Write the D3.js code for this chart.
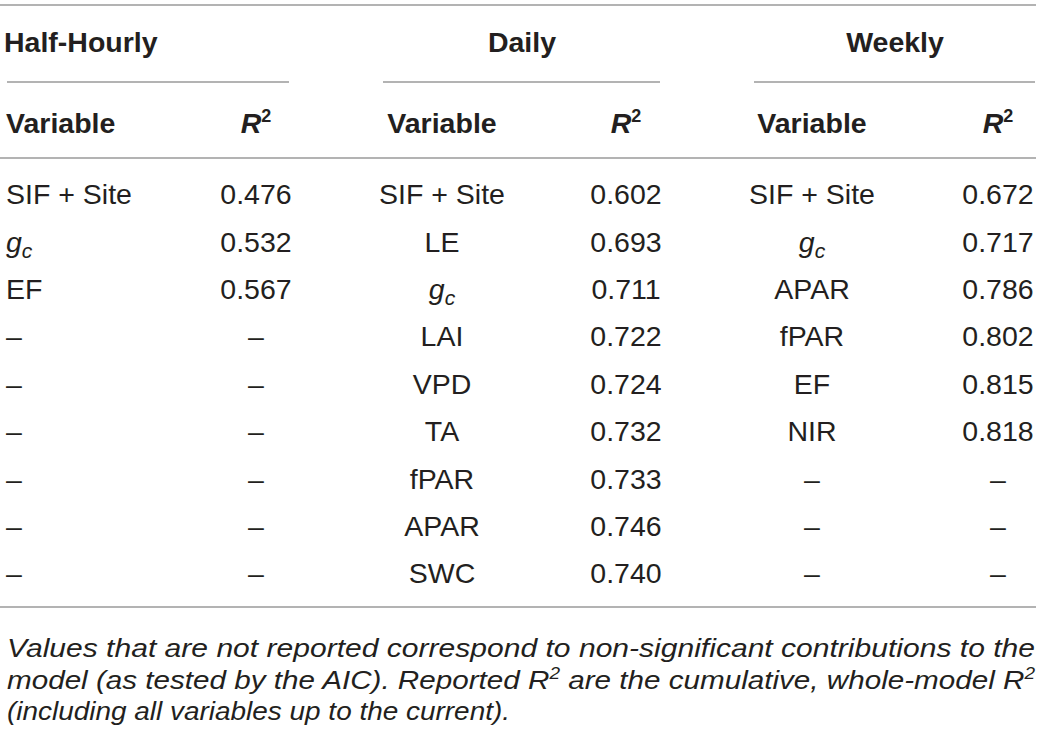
<!DOCTYPE html>
<html><head><meta charset="utf-8">
<script src="https://cdn.jsdelivr.net/npm/d3@7/dist/d3.min.js"></script>
<style>
html,body{margin:0;padding:0;background:#fff;}
svg{display:block;}
</style></head>
<body>
<svg id="chart" width="1041" height="731"></svg>
<script>
const groups = ["Half-Hourly", "Daily", "Weekly"];
const colHeaders = ["Variable", "R2"];
const halfHourlyVars = ["SIF + Site", "gc", "EF", "–", "–", "–", "–", "–", "–"];
const halfHourlyR2 = ["0.476", "0.532", "0.567", "–", "–", "–", "–", "–", "–"];
const dailyVars = ["SIF + Site", "LE", "gc", "LAI", "VPD", "TA", "fPAR", "APAR", "SWC"];
const dailyR2 = ["0.602", "0.693", "0.711", "0.722", "0.724", "0.732", "0.733", "0.746", "0.740"];
const weeklyVars = ["SIF + Site", "gc", "APAR", "fPAR", "EF", "NIR", "–", "–", "–"];
const weeklyR2 = ["0.672", "0.717", "0.786", "0.802", "0.815", "0.818", "–", "–", "–"];
const footnote = [
  "Values that are not reported correspond to non-significant contributions to the",
  "model (as tested by the AIC). Reported R2 are the cumulative, whole-model R2",
  "(including all variables up to the current)."
];

const svg = d3.select("#chart");
const textColor = "#231f20";
const ruleColor = "#9a9a9a";
const font = "'Liberation Sans', Arial, sans-serif";
const bodySize = 28.5;
const headSize = 28.5;

const nRows = dailyVars.length;
const y = d3.scaleBand().domain(d3.range(nRows)).range([170.5, 597]).paddingInner(0);

const groupSpec = [
  {name: groups[0], vars: halfHourlyVars, r2: halfHourlyR2, lineX: [7, 289], titleX: 4, titleAnchor: "start", varX: 6, varAnchor: "start", r2X: 256},
  {name: groups[1], vars: dailyVars, r2: dailyR2, lineX: [383, 660], titleX: 522, titleAnchor: "middle", varX: 442, varAnchor: "middle", r2X: 626},
  {name: groups[2], vars: weeklyVars, r2: weeklyR2, lineX: [754, 1035], titleX: 895, titleAnchor: "middle", varX: 812, varAnchor: "middle", r2X: 998}
];

function rule(y0, x0, x1) {
  svg.append("line").attr("x1", x0).attr("x2", x1).attr("y1", y0).attr("y2", y0)
    .attr("stroke", ruleColor).attr("stroke-width", 1.5);
}
rule(5, 0, 1036);
rule(158, 0, 1036);
rule(607, 0, 1036);

function writeVar(sel, v) {
  if (v === "gc") {
    sel.append("tspan").attr("font-style", "italic").text("g");
    sel.append("tspan").attr("font-style", "italic").attr("font-size", "21px").attr("dy", 6).text("c");
  } else {
    sel.text(v);
  }
}

groupSpec.forEach(g => {
  svg.append("text").attr("x", g.titleX).attr("y", 52).attr("text-anchor", g.titleAnchor)
    .attr("font-family", font).attr("font-weight", "bold").attr("font-size", headSize + "px")
    .attr("fill", textColor).text(g.name);
  rule(82, g.lineX[0], g.lineX[1]);
  svg.append("text").attr("x", g.varX).attr("y", 133).attr("text-anchor", g.varAnchor)
    .attr("font-family", font).attr("font-weight", "bold").attr("font-size", headSize + "px")
    .attr("fill", textColor).text(colHeaders[0]);
  const rh = svg.append("text").attr("x", g.r2X).attr("y", 133).attr("text-anchor", "middle")
    .attr("font-family", font).attr("font-weight", "bold").attr("font-size", headSize + "px")
    .attr("fill", textColor);
  rh.append("tspan").attr("font-style", "italic").text("R");
  rh.append("tspan").attr("font-size", "18px").attr("dy", -11).text("2");

  const rows = svg.append("g");
  rows.selectAll("text.var").data(g.vars).join("text")
    .attr("class", "var")
    .attr("x", g.varX).attr("y", (d, i) => y(i) + y.bandwidth() / 2 + 10)
    .attr("text-anchor", g.varAnchor)
    .attr("font-family", font).attr("font-size", bodySize + "px").attr("fill", textColor)
    .each(function(d) { writeVar(d3.select(this), d); });
  rows.selectAll("text.r2").data(g.r2).join("text")
    .attr("class", "r2")
    .attr("x", g.r2X).attr("y", (d, i) => y(i) + y.bandwidth() / 2 + 10)
    .attr("text-anchor", "middle")
    .attr("font-family", font).attr("font-size", bodySize + "px").attr("fill", textColor)
    .text(d => d);
});

// footnote
const fnY = [657, 689, 720];
const fnLen = [1028, 1028, 503];
footnote.forEach((line, i) => {
  const t = svg.append("text").attr("x", 7).attr("y", fnY[i])
    .attr("font-family", font).attr("font-style", "italic").attr("font-size", "25px")
    .attr("fill", textColor)
    .attr("textLength", fnLen[i]).attr("lengthAdjust", "spacingAndGlyphs");
  const parts = line.split("R2");
  parts.forEach((p, j) => {
    const ts = t.append("tspan").text(p);
    if (j > 0) ts.attr("dy", 10);
    if (j < parts.length - 1) {
      t.append("tspan").text("R");
      t.append("tspan").attr("font-size", "16px").attr("dy", -10).text("2");
    }
  });
  // last part may be empty after final superscript; reset baseline not needed
});
</script>
</body></html>
